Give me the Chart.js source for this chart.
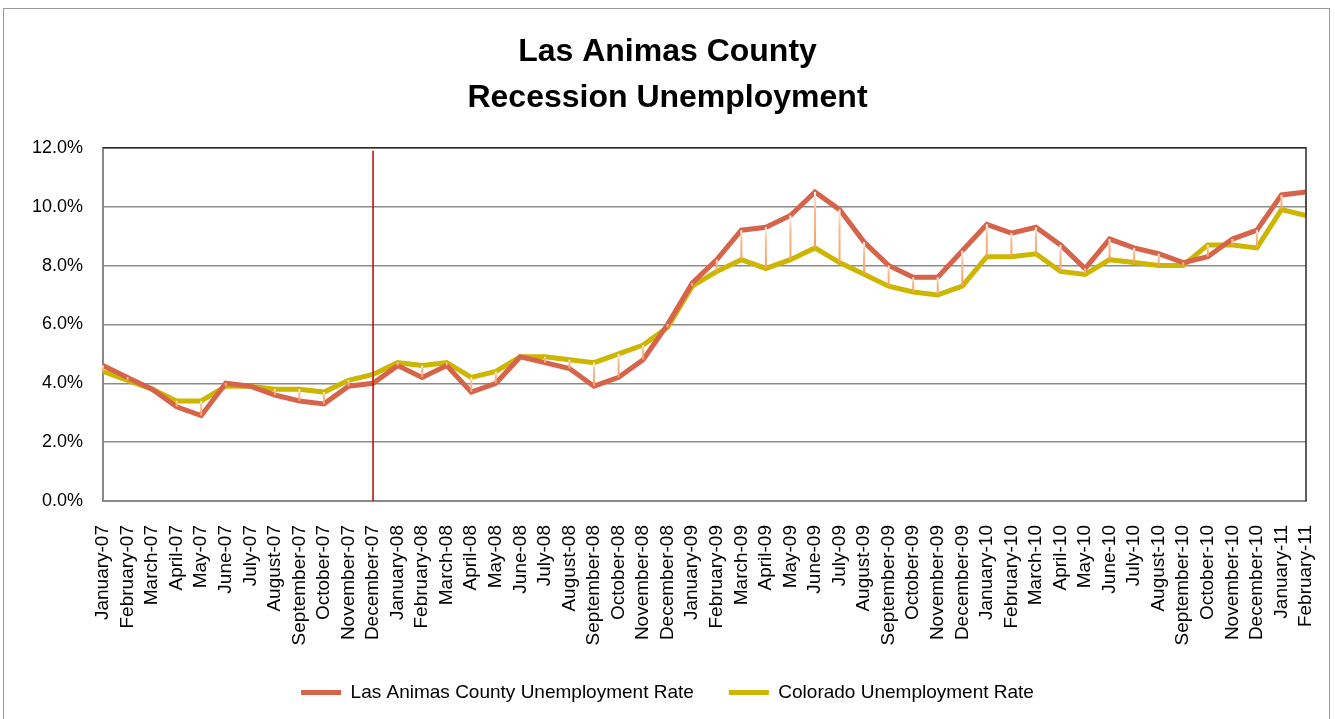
<!DOCTYPE html>
<html>
<head>
<meta charset="utf-8">
<title>Las Animas County Recession Unemployment</title>
<script src="https://cdn.jsdelivr.net/npm/chart.js@4/dist/chart.umd.min.js"></script>
<style>
    html, body { margin: 0; padding: 0; background: #fff; }
    #wrap { position: relative; width: 1335px; height: 719px; overflow: hidden; }
    #frame { position: absolute; left: 3px; top: 8px; width: 1325px; height: 720px; border: 1px solid #9a9a9a; pointer-events: none; }
</style>
</head>
<body>
<div id="wrap">
    <canvas id="unemploymentChart" width="1335" height="719"></canvas>
    <div id="frame"></div>
</div>
<script>
// Months on the category axis
const months = [
    'January-07', 'February-07', 'March-07', 'April-07', 'May-07', 'June-07',
    'July-07', 'August-07', 'September-07', 'October-07', 'November-07', 'December-07',
    'January-08', 'February-08', 'March-08', 'April-08', 'May-08', 'June-08',
    'July-08', 'August-08', 'September-08', 'October-08', 'November-08', 'December-08',
    'January-09', 'February-09', 'March-09', 'April-09', 'May-09', 'June-09',
    'July-09', 'August-09', 'September-09', 'October-09', 'November-09', 'December-09',
    'January-10', 'February-10', 'March-10', 'April-10', 'May-10', 'June-10',
    'July-10', 'August-10', 'September-10', 'October-10', 'November-10', 'December-10',
    'January-11', 'February-11'
];

// Unemployment rates (%)
const lasAnimasRate = [
    4.6, 4.2, 3.8, 3.2, 2.9, 4.0, 3.9, 3.6, 3.4, 3.3, 3.9, 4.0,
    4.6, 4.2, 4.6, 3.7, 4.0, 4.9, 4.7, 4.5, 3.9, 4.2, 4.8, 6.0,
    7.4, 8.2, 9.2, 9.3, 9.7, 10.5, 9.9, 8.8, 8.0, 7.6, 7.6, 8.5,
    9.4, 9.1, 9.3, 8.7, 7.9, 8.9, 8.6, 8.4, 8.1, 8.3, 8.9, 9.2,
    10.4, 10.5
];
const coloradoRate = [
    4.4, 4.1, 3.8, 3.4, 3.4, 3.9, 3.9, 3.8, 3.8, 3.7, 4.1, 4.3,
    4.7, 4.6, 4.7, 4.2, 4.4, 4.9, 4.9, 4.8, 4.7, 5.0, 5.3, 5.9,
    7.3, 7.8, 8.2, 7.9, 8.2, 8.6, 8.1, 7.7, 7.3, 7.1, 7.0, 7.3,
    8.3, 8.3, 8.4, 7.8, 7.7, 8.2, 8.1, 8.0, 8.0, 8.7, 8.7, 8.6,
    9.9, 9.7
];

// Y axis range and step (percent)
const yTicks = [0, 2, 4, 6, 8, 10, 12];

// Start of the recession, marked with a vertical line
const recessionStart = 'December-07';

const redColor = '#D6644A';
const yellowColor = '#CDB600';

// Hi-low connectors between the two series plus the recession marker
const extrasPlugin = {
    id: 'extras',
    afterDatasetsDraw(chart) {
        const ctx = chart.ctx;
        const x = chart.scales.x;
        const y = chart.scales.y;
        const area = chart.chartArea;

        ctx.save();
        ctx.lineWidth = 2;
        lasAnimasRate.forEach((v, i) => {
            const px = x.getPixelForValue(i);
            const y1 = y.getPixelForValue(Math.max(v, coloradoRate[i]));
            const y2 = y.getPixelForValue(Math.min(v, coloradoRate[i]));
            if (Math.abs(y2 - y1) < 1) return;
            const grad = ctx.createLinearGradient(0, y1, 0, y2);
            grad.addColorStop(0, '#FFF0E8');
            grad.addColorStop(0.35, '#FAB98C');
            grad.addColorStop(1, '#F7A064');
            ctx.strokeStyle = grad;
            ctx.beginPath();
            ctx.moveTo(px, y1);
            ctx.lineTo(px, y2);
            ctx.stroke();
        });

        // recession marker
        const mx = x.getPixelForValue(months.indexOf(recessionStart));
        ctx.strokeStyle = '#C00000';
        ctx.lineWidth = 1.5;
        ctx.beginPath();
        ctx.moveTo(mx, area.top + 3);
        ctx.lineTo(mx, area.bottom);
        ctx.stroke();

        // plot area top/right border
        ctx.strokeStyle = '#2a2a2a';
        ctx.lineWidth = 1.5;
        ctx.beginPath();
        ctx.moveTo(area.left, area.top);
        ctx.lineTo(area.right, area.top);
        ctx.lineTo(area.right, area.bottom);
        ctx.stroke();
        ctx.restore();
    }
};

document.addEventListener('DOMContentLoaded', function() {
    const ctx = document.getElementById('unemploymentChart');

    new Chart(ctx, {
        type: 'line',
        data: {
            labels: months,
            datasets: [{
                label: 'Las Animas County Unemployment Rate',
                data: lasAnimasRate,
                borderColor: redColor,
                backgroundColor: redColor,
                borderWidth: 5,
                pointRadius: 0,
                tension: 0,
                fill: false
            }, {
                label: 'Colorado Unemployment Rate',
                data: coloradoRate,
                borderColor: yellowColor,
                backgroundColor: yellowColor,
                borderWidth: 5,
                pointRadius: 0,
                tension: 0,
                fill: false
            }]
        },
        options: {
            responsive: false,
            animation: false,
            layout: {
                padding: { top: 8, left: 29, right: 29, bottom: 7 }
            },
            plugins: {
                title: {
                    display: true,
                    text: ['Las Animas County', 'Recession Unemployment'],
                    color: '#000',
                    font: { family: 'Liberation Sans', size: 32, weight: 'bold', lineHeight: 1.45 },
                    padding: { top: 21, bottom: 26 }
                },
                legend: {
                    display: true,
                    position: 'bottom',
                    labels: {
                        usePointStyle: true,
                        pointStyle: 'line',
                        pointStyleWidth: 40,
                        padding: 35,
                        color: '#000',
                        font: { family: 'Liberation Sans', size: 19 }
                    }
                },
                tooltip: { enabled: false }
            },
            scales: {
                x: {
                    offset: false,
                    grid: { display: false, drawTicks: false },
                    border: { display: true, color: '#888', width: 2 },
                    ticks: {
                        autoSkip: false,
                        maxRotation: 90,
                        minRotation: 90,
                        padding: 24,
                        color: '#000',
                        font: { family: 'Liberation Sans', size: 19 }
                    },
                    afterFit(scale) {
                        scale.height = 147;
                        scale.paddingLeft = 0;
                        scale.paddingRight = 0;
                    }
                },
                y: {
                    min: yTicks[0],
                    max: yTicks[yTicks.length - 1],
                    grid: { color: '#8c8c8c', lineWidth: 1.5, drawTicks: false },
                    border: { display: true, color: '#888', width: 2 },
                    ticks: {
                        stepSize: yTicks[1] - yTicks[0],
                        padding: 20,
                        color: '#000',
                        font: { family: 'Liberation Sans', size: 18 },
                        callback: v => v.toFixed(1) + '%'
                    },
                    afterFit(scale) { scale.width = 74; }
                }
            }
        },
        plugins: [extrasPlugin]
    });
});
</script>
</body>
</html>
